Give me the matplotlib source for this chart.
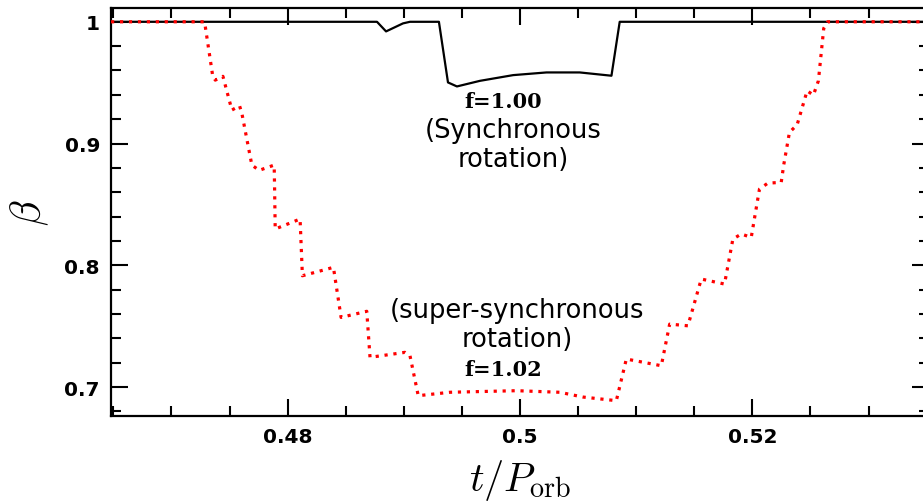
import numpy as np
import matplotlib
matplotlib.use("Agg")
import matplotlib.pyplot as plt
from matplotlib.ticker import MultipleLocator, FixedLocator, FixedFormatter

plt.rcParams['mathtext.fontset'] = 'cm'

# f = 1.00 (synchronous rotation), black solid line
t_sync = [0.4648, 0.48769, 0.48847, 0.48993, 0.49053, 0.49302, 0.49380, 0.49457,
          0.49655, 0.49941, 0.50228, 0.50514, 0.50787, 0.50858, 0.5352]
beta_sync = [1.0, 1.0, 0.9921, 0.9987, 1.0, 1.0, 0.9502, 0.9469,
             0.9515, 0.9562, 0.9584, 0.9584, 0.9557, 1.0, 1.0]

# f = 1.02 (super-synchronous rotation), red dotted line
t_super = [0.4648, 0.47285, 0.47354, 0.47377, 0.47443, 0.47463, 0.47520, 0.47586,
           0.47606, 0.47692, 0.47755, 0.47884, 0.47887, 0.47893, 0.48107, 0.48127,
           0.48394, 0.48460, 0.48681, 0.48709, 0.49010, 0.49053, 0.49124, 0.49397,
           0.49970, 0.50342, 0.50540, 0.50829, 0.50915, 0.51216, 0.51288, 0.51445,
           0.51560, 0.51760, 0.51832, 0.51904, 0.51990, 0.52061, 0.52133, 0.52248,
           0.52270, 0.52319, 0.52385, 0.52471, 0.52525, 0.52568, 0.52614, 0.52648,
           0.5352]
beta_super = [1.0, 1.0, 0.9562, 0.9521, 0.9552, 0.9480, 0.9275, 0.9310,
              0.9248, 0.8823, 0.8780, 0.8823, 0.8673, 0.8298, 0.8380, 0.7914,
              0.7983, 0.7572, 0.7622, 0.7244, 0.7285, 0.7257, 0.6929, 0.6957,
              0.6970, 0.6957, 0.6918, 0.6888, 0.7230, 0.7175, 0.7517, 0.7503,
              0.7887, 0.7846, 0.8215, 0.8257, 0.8229, 0.8626, 0.8675, 0.8681,
              0.8826, 0.9092, 0.9154, 0.9433, 0.9398, 0.9515, 0.9946, 1.0,
              1.0]

xticks = [0.48, 0.5, 0.52]
xtick_labels = ['0.48', '0.5', '0.52']
yticks = [0.7, 0.8, 0.9, 1.0]
ytick_labels = ['0.7', '0.8', '0.9', '1']

fig = plt.figure(figsize=(9.23, 5.02), dpi=100)
ax = fig.add_axes([0.1203, 0.1693, 0.8862, 0.8127])

ax.plot(t_sync, beta_sync, color='black', lw=1.6, zorder=2)
ax.plot(t_super, beta_super, color='#ff0000', lw=2.3, linestyle=(0, (1, 1.8)), zorder=3)

ax.set_xlim(0.4648, 0.5352)
ax.set_ylim(0.6762, 1.0113)

ax.xaxis.set_major_locator(FixedLocator(xticks))
ax.xaxis.set_major_formatter(FixedFormatter(xtick_labels))
ax.yaxis.set_major_locator(FixedLocator(yticks))
ax.yaxis.set_major_formatter(FixedFormatter(ytick_labels))
ax.xaxis.set_minor_locator(MultipleLocator(0.005))
ax.yaxis.set_minor_locator(MultipleLocator(0.02))

ax.tick_params(which='both', direction='in', top=True, right=True, width=1.5,
               labelsize=14.5, pad=8)
ax.tick_params(which='major', length=12)
ax.tick_params(which='minor', length=7)
for lab in ax.get_xticklabels() + ax.get_yticklabels():
    lab.set_fontweight('bold')
for sp in ax.spines.values():
    sp.set_linewidth(1.6)

ax.set_xlabel(r'$t/P_{\rm orb}$', fontsize=29, labelpad=8)
ax.set_ylabel(r'$\beta$', fontsize=30, labelpad=10)

ax.text(0.49852, 0.9349, 'f=1.00', family='DejaVu Serif', fontweight='bold',
        fontsize=15, ha='center', va='center')
ax.text(0.49944, 0.8992, '(Synchronous\nrotation)', fontsize=18.5,
        ha='center', va='center', linespacing=1.15)
ax.text(0.49978, 0.7513, '(super-synchronous\nrotation)', fontsize=18.5,
        ha='center', va='center', linespacing=1.15)
ax.text(0.49858, 0.7148, 'f=1.02', family='DejaVu Serif', fontweight='bold',
        fontsize=15, ha='center', va='center')

fig.savefig('out.png', dpi=100)
